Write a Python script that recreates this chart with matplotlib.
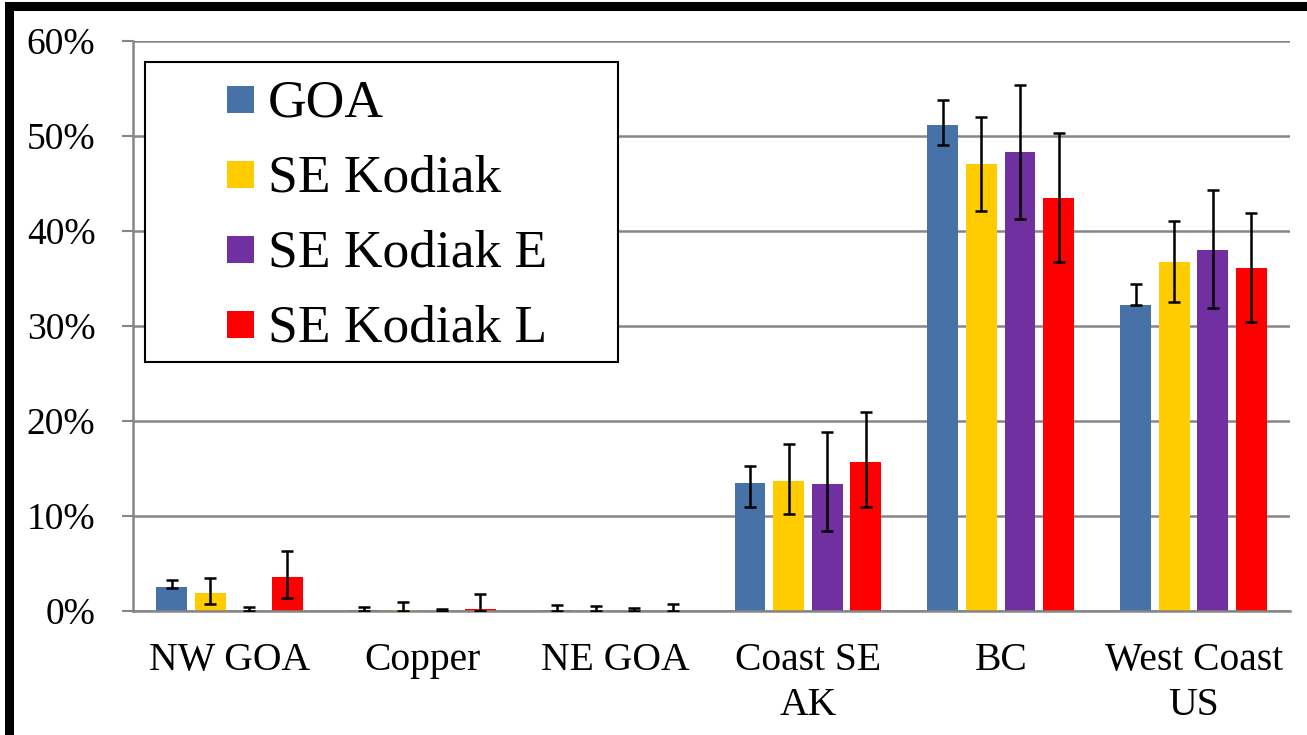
import matplotlib
matplotlib.use("Agg")
import matplotlib.pyplot as plt
import numpy as np
from matplotlib.patches import Rectangle
from matplotlib.ticker import FuncFormatter

plt.rcParams['font.family'] = ['Liberation Serif', 'DejaVu Serif']

categories = ["NW GOA", "Copper", "NE GOA", "Coast SE\nAK", "BC", "West Coast\nUS"]
series_names = ["GOA", "SE Kodiak", "SE Kodiak E", "SE Kodiak L"]
colors = ["#4672A8", "#FFCC00", "#7030A0", "#FF0000"]

goa = [2.5, 0.1, 0.1, 13.5, 51.2, 32.2]
goa_up = [0.8, 0.3, 0.55, 1.8, 2.55, 2.25]
goa_lo = [0.1, 0.1, 0.1, 2.5, 2.1, 0.0]

sek = [1.9, 0.1, 0.05, 13.7, 47.05, 36.7]
sek_up = [1.6, 0.8, 0.45, 3.9, 4.95, 4.4]
sek_lo = [1.2, 0.1, 0.05, 3.5, 4.95, 4.2]

sek_e = [0.05, 0.05, 0.05, 13.4, 48.3, 38.0]
sek_e_up = [0.4, 0.2, 0.25, 5.4, 7.1, 6.35]
sek_e_lo = [0.05, 0.05, 0.05, 4.95, 7.0, 6.1]

sek_l = [3.6, 0.2, 0.05, 15.7, 43.5, 36.1]
sek_l_up = [2.75, 1.55, 0.7, 5.3, 6.8, 5.8]
sek_l_lo = [2.2, 0.2, 0.05, 4.8, 6.8, 5.7]

values = [goa, sek, sek_e, sek_l]
uppers = [goa_up, sek_up, sek_e_up, sek_l_up]
lowers = [goa_lo, sek_lo, sek_e_lo, sek_l_lo]

W, H = 1307, 735
fig = plt.figure(figsize=(W / 100, H / 100), dpi=100)
ax = fig.add_axes([133 / W, 1 - 611 / H, (1290 - 133) / W, (611 - 41) / H])

x = np.arange(len(categories))
bw = 0.16
pitch = 0.2
offsets = [-1.5 * pitch, -0.5 * pitch, 0.5 * pitch, 1.5 * pitch]
for vals, up, lo, col, off, name in zip(values, uppers, lowers, colors, offsets, series_names):
    ax.bar(x + off, vals, width=bw, color=col, zorder=2, label=name)
    ax.errorbar(x + off, vals, yerr=[lo, up], fmt='none', ecolor='black',
                elinewidth=1.8, capsize=4.5, capthick=1.8, zorder=3)

ax.set_xlim(-0.5, 5.5)
ax.set_ylim(0, 60)
ax.set_yticks(np.arange(0, 61, 10))
ax.yaxis.set_major_formatter(FuncFormatter(lambda v, p: f"{int(v)}%"))
ax.set_xticks(x)
ax.set_xticklabels(categories, fontsize=28.5, linespacing=1.3)
ax.tick_params(axis='x', length=0, pad=22)
ax.tick_params(axis='y', length=8, width=1.5, color='#868686', labelsize=27, pad=19)
ax.grid(axis='y', color='#868686', linewidth=1.8, zorder=0)
ax.set_axisbelow(True)
for s in ['top', 'right']:
    ax.spines[s].set_visible(False)
for s in ['left', 'bottom']:
    ax.spines[s].set_color('#868686')
    ax.spines[s].set_linewidth(1.8)

# legend drawn in figure pixel coordinates
def fx(px):
    return px / W

def fy(py):
    return 1 - py / H

fig.patches.append(Rectangle((fx(145), fy(361.7)), fx(618) - fx(145), fy(61.7) - fy(361.7),
                             transform=fig.transFigure, facecolor='white', edgecolor='black',
                             linewidth=1.5, zorder=6))
for i, (name, col) in enumerate(zip(series_names, colors)):
    cy = 99.5 + 75 * i
    fig.patches.append(Rectangle((fx(227.3), fy(cy + 13.5)), 27 / W, 27 / H,
                                 transform=fig.transFigure, facecolor=col, edgecolor='none',
                                 zorder=7))
    fig.text(fx(268), fy(116.7 + 75 * i), name, fontsize=38.5, ha='left', va='baseline',
             zorder=8)

# thick outer frame (cropped on right/bottom)
fig.patches.append(Rectangle((8.5 / W, -0.1), 1.2, 1 - 5.5 / H + 0.1, transform=fig.transFigure,
                             fill=False, edgecolor='black', linewidth=6.5, zorder=10))

fig.savefig("out.png", dpi=100)
